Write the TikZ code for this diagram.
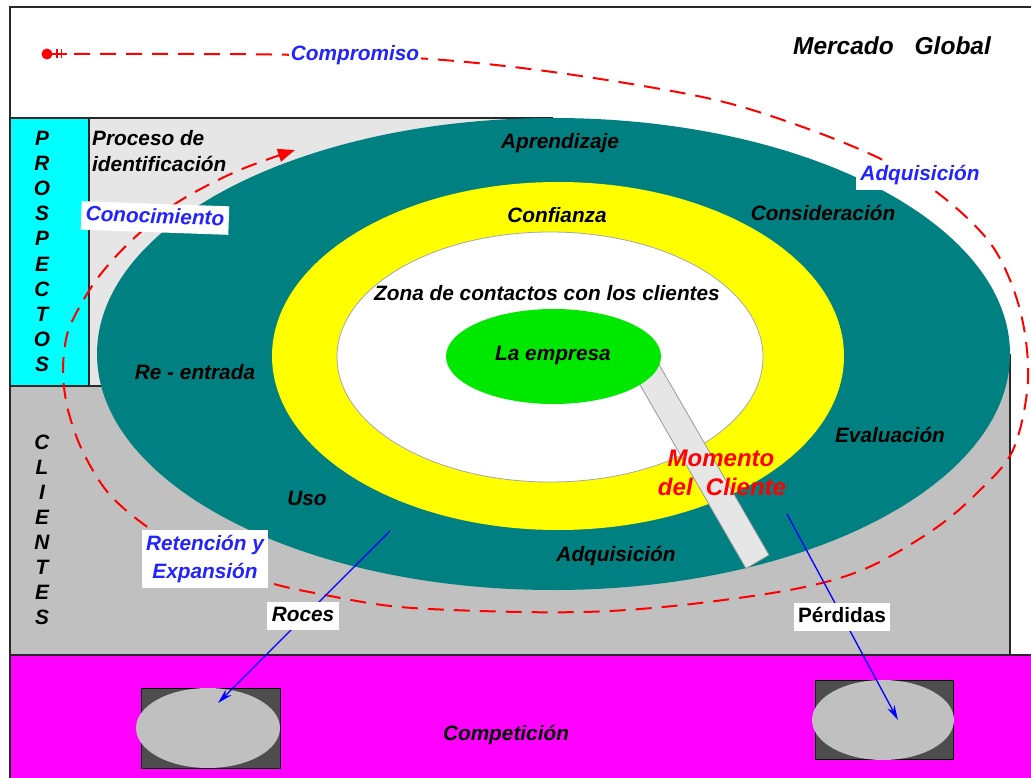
\documentclass[tikz,border=0pt]{standalone}
\usepackage{fontspec}
\setmainfont{Liberation Sans}
\usetikzlibrary{arrows.meta}

\definecolor{tealring}{RGB}{0,128,128}
\definecolor{yelring}{RGB}{255,255,0}
\definecolor{coregreen}{RGB}{0,232,0}
\definecolor{lightgr}{RGB}{230,230,230}
\definecolor{midgr}{RGB}{192,192,192}
\definecolor{darkgr}{RGB}{77,77,77}
\definecolor{magbox}{RGB}{255,0,255}
\definecolor{cyanbox}{RGB}{0,255,255}
\definecolor{bluetxt}{RGB}{35,35,255}
\definecolor{framecol}{RGB}{40,40,40}

\begin{document}
\begin{tikzpicture}[x=1pt,y=-1pt,
  lbl/.style={font=\fontsize{20.8}{28}\selectfont\bfseries\itshape, inner sep=0pt, align=center},
  bigl/.style={font=\fontsize{24.5}{29}\selectfont\bfseries\itshape, inner sep=0pt, align=center},
  momento/.style={font=\fontsize{24}{29}\selectfont\bfseries\itshape, text=red, inner sep=0pt, align=center},
  tag/.style={lbl, fill=white, text height=15pt, text depth=4.5pt, inner xsep=4.5pt, inner ysep=4.5pt},
  bluetag/.style={tag, text=bluetxt},
  region/.style={draw=framecol, line width=1.4pt},
  journey/.style={draw=red, line width=2pt, dash pattern=on 16pt off 10pt},
  loss/.style={draw=blue, line width=1.3pt, -{Stealth[length=15pt,width=8pt]}},
  seat/.style={fill=darkgr, draw=black, line width=1pt},
  seatdisc/.style={fill=midgr}
]
\path[use as bounding box] (0,0) rectangle (1031,778);
\clip (0,0) rectangle (1031,778);
\fill[white] (0,0) rectangle (1031,778);

% market bands
\path[region, fill=midgr] (10,355) rectangle (1010,655);
\path[region, fill=lightgr] (89,118) rectangle (552,386);
\path[region, fill=cyanbox] (10,118) rectangle (89,386);
\path[region, fill=magbox] (10,655) rectangle (1045,795);
\draw[framecol, line width=2pt] (10,795) -- (10,7) -- (1045,7);

% concentric zones around the company
\fill[tealring] (553.5,354) ellipse [x radius=456.5, y radius=236];
\fill[yelring] (558,356) ellipse [x radius=286, y radius=174];
\path[fill=white, draw=gray!70, line width=0.8pt] (550,357) ellipse [x radius=213, y radius=125];

% client moment bar
\path[fill=lightgr, draw=gray!80, line width=0.8pt]
  (657,361) -- (769,555) -- (746,568.5) -- (634,374.5) -- cycle;

\fill[coregreen] (553.5,356.5) ellipse [x radius=107.5, y radius=47.5];

% customer journey loop
\fill[red] (47,54) circle (5.5);
\draw[red, line width=1.3pt] (47,54) -- (67,54);
\draw[red, line width=1.3pt] (57,49.5) -- (57,58.5) (61.5,49.5) -- (61.5,58.5);
\draw[journey, -{Triangle[length=17pt,width=13pt]}] plot[smooth, tension=0.55] coordinates {
  (74,54) (200,54) (300,55) (430,59) (560,73) (707,98) (800,126) (883,160) (943,197)
  (993,247) (1020,310) (1028,380) (1013,450) (977,493) (933,530) (867,568) (800,588)
  (700,603) (610,611) (520,612) (400,607) (320,594) (267,582) (200,558) (153,531)
  (110,495) (83,452) (68,410) (63,372) (67,335) (80,306) (100,275) (130,242) (175,204)
  (235,172) (295,150)};

% competition seats
\path[seat] (141,688) rectangle (280,768);
\fill[seatdisc] (208,728) ellipse [x radius=72, y radius=40];
\path[seat] (815,680) rectangle (953,759);
\fill[seatdisc] (883,720) ellipse [x radius=71, y radius=40];

% losses to the competition
\coordinate (rocesFrom) at (390,531);
\coordinate (rocesTo) at (218,703);
\coordinate (perdFrom) at (787,514);
\coordinate (perdTo) at (898,720);
\draw[loss] (rocesFrom) -- (rocesTo);
\draw[loss] (perdFrom) -- (perdTo);

% texts
\node[bigl] (mercado) at (892,46) {Mercado\hspace{0.85em}Global};
\node[lbl, text=bluetxt, fill=white, inner xsep=2pt, inner ysep=3pt] (compromiso) at (355,55) {Compromiso};
\node[lbl, anchor=west, align=left] (proceso) at (92,151) {Proceso de\\[-2.5pt]identificación};
\node[bluetag, rotate=-2] (conoc) at (155,218) {Conocimiento};
\node[bluetag, anchor=south] (adqTop) at (920,190) {Adquisición};
\node[lbl] (aprend) at (560,143) {Aprendizaje};
\node[lbl] (confianza) at (557,215) {Confianza};
\node[lbl] (consid) at (823,213) {Consideración};
\node[lbl] (zona) at (547,293) {Zona de contactos con los clientes};
\node[lbl] (empresa) at (553,356) {La empresa};
\node[lbl] (reentrada) at (195,372) {Re - entrada};
\node[lbl] (evalua) at (890,435) {Evaluación};
\node[lbl] (uso) at (307,498) {Uso};
\node[lbl] (adqBot) at (616,556) {Adquisición};
\node[momento] (momentoT) at (721,458) {Momento};
\node[momento] (momentoB) at (722,487) {del\ \ Cliente};
\node[lbl, text=bluetxt, fill=white, inner xsep=4pt, inner ysep=5pt] (reten) at (205,559) {Retención y\\Expansión};
\node[tag] (roces) at (303,616) {Roces};
\node[tag, font=\fontsize{20.8}{24}\selectfont\bfseries] (perdidas) at (842,617) {Pérdidas};
\node[lbl] (compet) at (506,735) {Competición};

\foreach \l [count=\i from 0] in {P,R,O,S,P,E,C,T,O,S}
  \node[lbl] (pros\i) at (42,138+25.2*\i) {\l};
\foreach \l [count=\i from 0] in {C,L,I,E,N,T,E,S}
  \node[lbl] (cli\i) at (42,442+25.1*\i) {\l};
\end{tikzpicture}
\end{document}
